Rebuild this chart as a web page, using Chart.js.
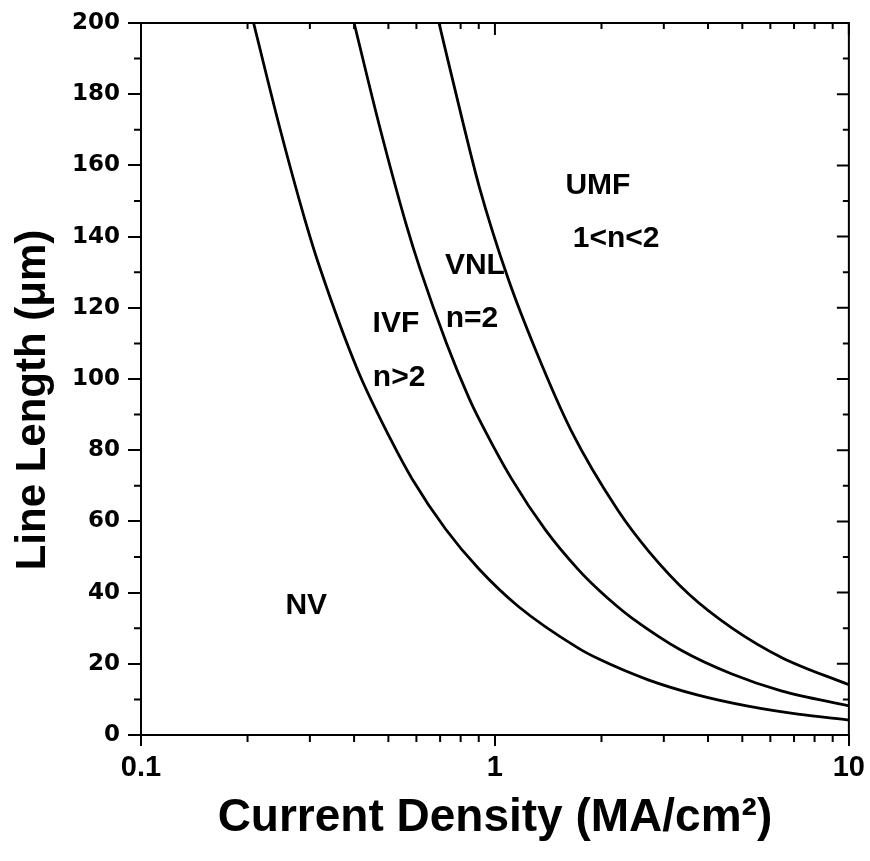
<!DOCTYPE html>
<html>
<head>
<meta charset="utf-8">
<script src="https://cdn.jsdelivr.net/npm/chart.js@4.4.0/dist/chart.umd.min.js"></script>
<style>
  body { margin: 0; background: #fff; }
  #chart { display: block; }
</style>
</head>
<body>
<canvas id="chart" width="870" height="861"></canvas>
<script>
        // values (scan tilt taken out)
        const ivfJ = [0.208, 0.246, 0.291, 0.32, 0.409, 0.509, 0.583, 0.726, 0.9, 1.165, 1.72, 1.96, 2.71, 3.75, 5.19, 7.18, 10];
        const ivfL = [200, 171, 144.5, 131.3, 102.6, 82.8, 72, 57.8, 46.7, 36.1, 24.4, 21.4, 15.5, 11.2, 8.1, 5.85, 4.2];

        const vnlJ = [0.4, 0.472, 0.561, 0.614, 0.73, 0.846, 0.891, 1.117, 1.392, 1.723, 1.961, 2.218, 2.428, 3.36, 4.654, 6.44, 10];
        const vnlL = [200, 171, 143.5, 131, 110, 94.5, 89.8, 71.8, 57.5, 46.4, 40.8, 36.1, 33, 23.8, 17.2, 12.4, 8.2];

        const umfJ = [0.695, 0.81, 0.903, 1.087, 1.311, 1.642, 2.223, 2.72, 3.528, 4.667, 6.45, 10];
        const umfL = [200, 172.5, 154, 128.5, 107.5, 85.5, 63.2, 51.6, 39.6, 30.1, 21.8, 14.1];

        const xTickValues = [0.1, 1, 10];
        const xTickLabels = ['0.1', '1', '10'];
        const xMinorTicks = [0.2, 0.3, 0.4, 0.5, 0.6, 0.7, 0.8, 0.9, 2, 3, 4, 5, 6, 7, 8, 9];
        const yTickLabels = ['0', '20', '40', '60', '80', '100', '120', '140', '160', '180', '200'];
        const yMinorTicks = [10, 30, 50, 70, 90, 110, 130, 150, 170, 190];

        const regionText = ['UMF', '1<n<2', 'VNL', 'n=2', 'IVF', 'n>2', 'NV'];
        const regionJ = [1.954, 2.2, 0.878, 0.861, 0.525, 0.536, 0.293];
        const regionL = [154.2, 139.3, 131.7, 116.9, 115.6, 100.4, 36.2];

        const xTitle = 'Current Density (MA/cm\u00B2)';
        const yTitle = 'Line Length (\u03BCm)';

        const FONT = '"Liberation Sans", Arial, sans-serif';

        function toPoints(xs, ys) {
            return xs.map((x, i) => ({ x: x, y: ys[i] }));
        }

        function curve(xs, ys) {
            return {
                data: toPoints(xs, ys),
                showLine: true,
                borderColor: '#000',
                borderWidth: 2.8,
                pointRadius: 0,
                cubicInterpolationMode: 'monotone',
                fill: false
            };
        }

        // top/right frame plus minor ticks
        const framePlugin = {
            id: 'frame',
            afterDraw(chart) {
                const ctx = chart.ctx;
                const { left, right, top, bottom } = chart.chartArea;
                const xs = chart.scales.x;
                const ys = chart.scales.y;
                ctx.save();
                ctx.strokeStyle = '#000';
                ctx.lineWidth = 2;
                ctx.beginPath();
                ctx.moveTo(left, top);
                ctx.lineTo(right, top);
                ctx.lineTo(right, bottom);
                ctx.stroke();

                ctx.beginPath();
                xTickValues.forEach(v => {
                    const px = xs.getPixelForValue(v);
                    ctx.moveTo(px, top); ctx.lineTo(px, top + 12);
                });
                xMinorTicks.forEach(v => {
                    const px = xs.getPixelForValue(v);
                    ctx.moveTo(px, top); ctx.lineTo(px, top + 6);
                    ctx.moveTo(px, bottom); ctx.lineTo(px, bottom + 7);
                });
                yTickLabels.forEach(t => {
                    const py = ys.getPixelForValue(Number(t));
                    ctx.moveTo(right, py); ctx.lineTo(right - 12, py);
                });
                yMinorTicks.forEach(v => {
                    const py = ys.getPixelForValue(v);
                    ctx.moveTo(right, py); ctx.lineTo(right - 6, py);
                    ctx.moveTo(left, py); ctx.lineTo(left - 7, py);
                });
                ctx.stroke();
                ctx.restore();
            }
        };

        // region names inside the plot and the y axis title
        const labelPlugin = {
            id: 'labels',
            afterDatasetsDraw(chart) {
                const ctx = chart.ctx;
                const xs = chart.scales.x;
                const ys = chart.scales.y;
                ctx.save();
                ctx.fillStyle = '#000';
                ctx.font = 'bold 30px ' + FONT;
                ctx.textAlign = 'center';
                ctx.textBaseline = 'middle';
                regionText.forEach((t, i) => {
                    ctx.fillText(t, xs.getPixelForValue(regionJ[i]), ys.getPixelForValue(regionL[i]));
                });

                ctx.font = 'bold 42px ' + FONT;
                ctx.translate(33, 400);
                ctx.rotate(-Math.PI / 2);
                ctx.fillText(yTitle, 0, 0);
                ctx.restore();
            }
        };

        const chart = new Chart(document.getElementById('chart'), {
            type: 'scatter',
            data: {
                datasets: [curve(ivfJ, ivfL), curve(vnlJ, vnlL), curve(umfJ, umfL)]
            },
            options: {
                responsive: false,
                animation: false,
                layout: { padding: { left: 0, top: 23, right: 21, bottom: 0 } },
                plugins: {
                    legend: { display: false },
                    tooltip: { enabled: false }
                },
                scales: {
                    x: {
                        type: 'logarithmic',
                        min: 0.1,
                        max: 10,
                        afterBuildTicks: scale => {
                            scale.ticks = xTickValues.map(v => ({ value: v, major: true }));
                        },
                        afterFit: scale => { scale.height = 126; },
                        ticks: {
                            color: '#000',
                            padding: 5,
                            maxRotation: 0,
                            font: { family: FONT, size: 29, weight: 'bold' },
                            callback: (v, i) => xTickLabels[i]
                        },
                        grid: {
                            drawOnChartArea: false,
                            drawTicks: true,
                            tickLength: 11,
                            color: '#000',
                            lineWidth: 2
                        },
                        border: { display: true, color: '#000', width: 2 },
                        title: {
                            display: true,
                            text: xTitle,
                            color: '#000',
                            padding: { top: 0, bottom: 15 },
                            font: { family: FONT, size: 46, weight: 'bold' }
                        }
                    },
                    y: {
                        min: 0,
                        max: 200,
                        afterFit: scale => { scale.width = 141; },
                        ticks: {
                            stepSize: 20,
                            color: '#000',
                            padding: 8,
                            font: { family: '"DejaVu Sans", sans-serif', size: 23, weight: 'bold' },
                            callback: (v, i) => yTickLabels[i]
                        },
                        grid: {
                            drawOnChartArea: false,
                            drawTicks: true,
                            tickLength: 13,
                            color: '#000',
                            lineWidth: 2
                        },
                        border: { display: true, color: '#000', width: 2 }
                    }
                }
            },
            plugins: [framePlugin, labelPlugin]
        });
</script>
</body>
</html>
